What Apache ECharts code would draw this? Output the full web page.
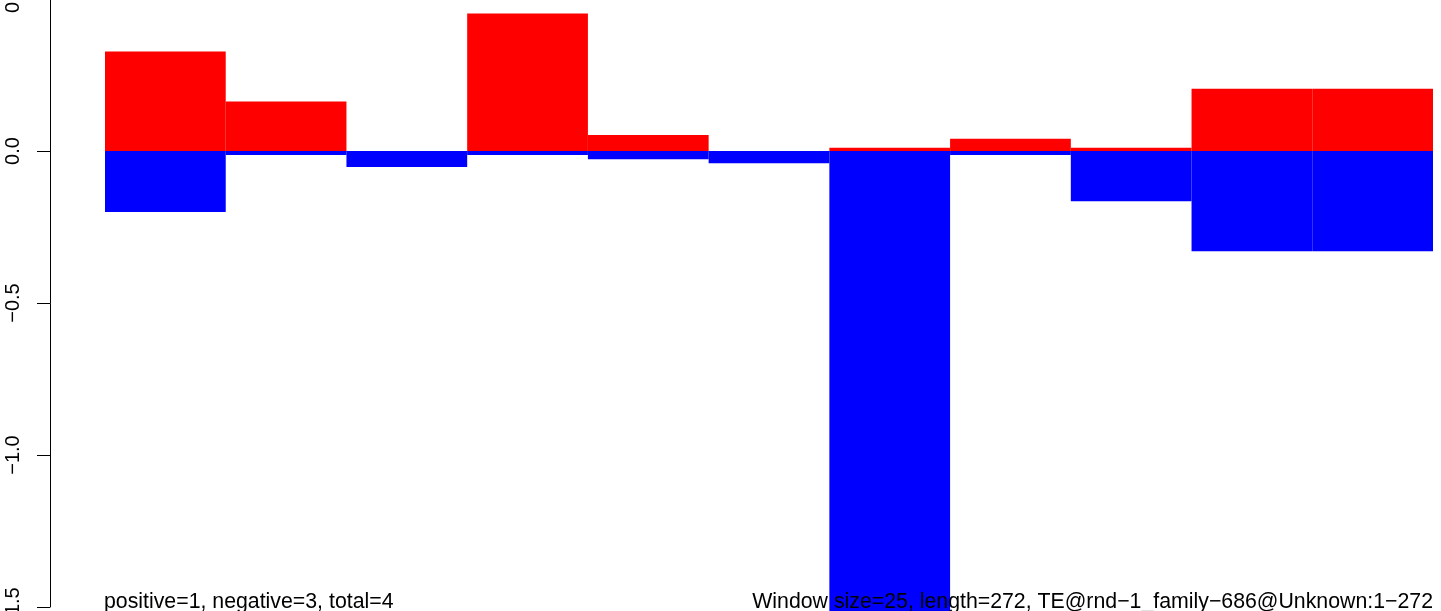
<!DOCTYPE html>
<html>
<head>
<meta charset="utf-8">
<script src="https://cdn.jsdelivr.net/npm/echarts@6/dist/echarts.min.js"></script>
<style>
html,body{margin:0;padding:0;background:#fff;}
#c{width:1441px;height:611px;}
</style>
</head>
<body>
<div id="c"></div>
<script>
// Window index categories
var categories = ['1','2','3','4','5','6','7','8','9','10','11'];
// Positive (red) and negative (blue) values per window
var positiveValues = [0.327, 0.163, 0.000, 0.452, 0.053, 0.000, 0.011, 0.040, 0.011, 0.205, 0.205];
var negativeValues = [-0.201, -0.013, -0.053, -0.013, -0.027, -0.040, -1.60, -0.013, -0.165, -0.330, -0.330];
// Y axis ticks
var yMin = -1.5, yMax = 0.5, yStep = 0.5;
// Annotations
var leftNote = 'positive=1, negative=3, total=4';
var rightNote = 'Window size=25, length=272, TE@rnd\u22121_family\u2212686@Unknown:1\u2212272';

var FONT = 'Liberation Sans, Arial, Helvetica, sans-serif';

function barData(values, color) {
  return values.map(function (v) {
    return {value: v, itemStyle: {color: color, borderColor: color, borderWidth: v === 0 ? 0 : 2}};
  });
}

var chart = echarts.init(document.getElementById('c'), null, {renderer: 'canvas'});
chart.setOption({
  animation: false,
  backgroundColor: '#ffffff',
  grid: {left: 105, right: 8, top: -1, bottom: 4, containLabel: false, outerBoundsMode: 'none'},
  xAxis: {
    type: 'category', data: categories, show: false, boundaryGap: true
  },
  yAxis: {
    type: 'value', min: yMin, max: yMax, interval: yStep, offset: 55,
    axisLine: {show: true, lineStyle: {color: '#000', width: 1}},
    axisTick: {show: true, inside: false, length: 13, lineStyle: {color: '#000', width: 1}},
    splitLine: {show: false},
    axisLabel: {
      show: true, rotate: 90, margin: 27, color: '#000', fontSize: 20, fontFamily: FONT,
      showMaxLabel: true, showMinLabel: true, hideOverlap: false,
      formatter: function (v) { return v.toFixed(1).replace('-', '\u2212'); }
    }
  },
  series: [
    {
      type: 'line', data: [], z: 1, silent: true,
      markLine: {
        z: 1, silent: true, symbol: 'none', label: {show: false},
        lineStyle: {color: '#bebebe', width: 1, type: 'solid'},
        data: [{yAxis: 0}]
      }
    },
    {
      type: 'bar', data: barData(positiveValues, '#ff0000'), barWidth: '100%', barGap: '-100%', z: 10, clip: false,
      silent: true
    },
    {
      type: 'bar', data: barData(negativeValues, '#0000ff'), barWidth: '100%', barGap: '-100%', z: 10, clip: false,
      silent: true
    }
  ],
  graphic: [
    {type: 'text', left: 104, top: 592, z: 100, style: {text: leftNote, fill: '#000', font: '21.3px ' + FONT}},
    {type: 'text', right: 8, top: 592, z: 100, style: {text: rightNote, fill: '#000', font: '21.3px ' + FONT}}
  ]
});
</script>
</body>
</html>
